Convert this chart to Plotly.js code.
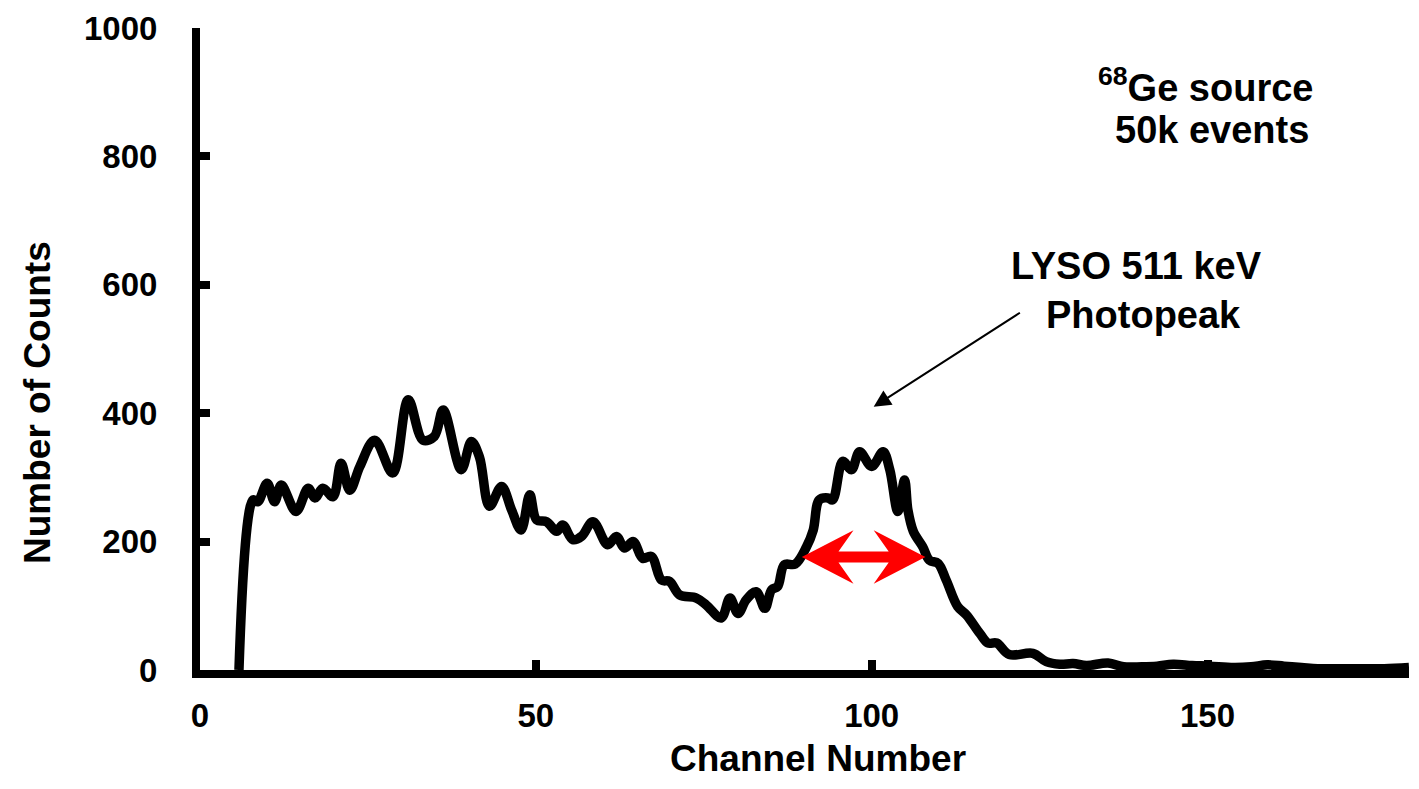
<!DOCTYPE html>
<html>
<head>
<meta charset="utf-8">
<script src="https://cdn.plot.ly/plotly-3.0.1.min.js"></script>
<style>html,body{margin:0;padding:0;background:#fff;}#chart{width:1419px;height:789px;}</style>
</head>
<body>
<div id="chart"></div>
<script>
// ---- Data ----
const channels = [5.8, 7.9, 8.6, 10.0, 11.1, 12.1, 14.3, 16.1, 17.1, 18.3, 19.8, 21.0, 22.3, 23.8, 26.0, 28.7, 31.0, 33.2, 34.9, 36.2, 38.9, 40.4, 41.6, 43.1, 44.9, 46.4, 47.8, 49.1, 50.1, 51.6, 53.1, 54.0, 55.5, 56.8, 58.5, 60.7, 62.0, 63.2, 64.5, 65.9, 67.2, 68.7, 69.9, 71.4, 73.9, 75.4, 77.6, 78.9, 80.1, 81.3, 82.8, 84.1, 85.1, 86.0, 87.0, 88.6, 90.3, 91.3, 92.2, 93.5, 94.2, 95.7, 97.0, 98.2, 100.0, 101.7, 102.7, 103.9, 104.9, 105.4, 106.2, 107.6, 108.6, 109.9, 111.1, 112.8, 114.1, 116.1, 117.3, 118.6, 120.5, 124.0, 126.0, 128, 130, 132, 135.2, 137.5, 140.2, 142.5, 144.9, 147.7, 150.3, 153.9, 156.5, 158.9, 161.4, 164, 166.4, 171.3, 176.3, 180];
const counts = [0, 265, 262, 291, 262, 288, 247, 283, 268, 283, 270, 322, 280, 317, 358, 307, 421, 358, 364, 405, 312, 356, 332, 255, 286, 249, 218, 273, 234, 231, 216, 226, 203, 208, 231, 195, 208, 190, 200, 174, 177, 140, 138, 117, 112, 101, 81, 112, 88, 109, 122, 96, 125, 130, 164, 165, 192, 218, 265, 268, 265, 325, 312, 340, 317, 340, 312, 247, 296, 249, 216, 192, 171, 166, 140, 99, 86, 57, 42, 42, 24, 26, 13, 9, 10, 7, 11, 5, 5, 6, 9, 7, 6, 4, 5, 8, 6, 4, 2, 2, 2, 4];

const xTickVals = [0, 50, 100, 150];
const yTickVals = [0, 200, 400, 600, 800, 1000];

// FWHM marker (channel edges and half-maximum level)
const fwhmEdges = [89.6, 108.0];
const halfMax = 176;

// Photopeak pointer target
const peakPointer = [100.3, 410];

// Text labels
const sourceLines = ['<sup>68</sup>Ge source', '50k events'];
const peakLines = ['LYSO 511 keV', 'Photopeak'];
const xTitle = 'Channel Number';
const yTitle = 'Number of Counts';

// ---- Styling ----
const FONT = 'Liberation Sans, Arial, Helvetica, sans-serif';
const black = '#000000';

const trace = {
  x: channels,
  y: counts,
  type: 'scatter',
  mode: 'lines',
  line: {color: black, width: 9.5, shape: 'spline', smoothing: 1},
  hoverinfo: 'x+y',
  showlegend: false
};

// Red double-headed arrow, built from the FWHM edges (x in data, y in pixels about halfMax)
const chPerPx = 180 / 1209;
const headLen = 51.7 * chPerPx, notch = 36.7 * chPerPx;
const L = fwhmEdges[0], R = fwhmEdges[1];
const hh = 26.7, hs = 5.5;
const arrowPath = [
  'M', L, 0,
  'L', L + headLen, hh,
  'L', L + notch, hs,
  'L', R - notch, hs,
  'L', R - headLen, hh,
  'L', R, 0,
  'L', R - headLen, -hh,
  'L', R - notch, -hs,
  'L', L + notch, -hs,
  'L', L + headLen, -hh,
  'Z'
];
let pathStr = '';
for (let i = 0; i < arrowPath.length; ) {
  if (arrowPath[i] === 'Z') { pathStr += 'Z'; i++; continue; }
  pathStr += arrowPath[i] + arrowPath[i + 1] + ',' + arrowPath[i + 2] + ' ';
  i += 3;
}

const bigFont = {family: FONT, size: 38, color: black, weight: 'bold'};

const annotations = [
  {xref: 'x', yref: 'y', x: 149.7, y: 912, text: sourceLines[0], showarrow: false, xanchor: 'center', yanchor: 'middle', font: bigFont},
  {xref: 'x', yref: 'y', x: 150.6, y: 841, text: sourceLines[1], showarrow: false, xanchor: 'center', yanchor: 'middle', font: bigFont},
  {xref: 'x', yref: 'y', x: 139.5, y: 629, text: peakLines[0], showarrow: false, xanchor: 'center', yanchor: 'middle', font: bigFont},
  {xref: 'x', yref: 'y', x: 140.5, y: 553, text: peakLines[1], showarrow: false, xanchor: 'center', yanchor: 'middle', font: bigFont},
  {xref: 'x', yref: 'y', x: peakPointer[0], y: peakPointer[1], text: '', showarrow: true,
   ax: 147.7, ay: -95, arrowhead: 2, arrowsize: 1.7, arrowwidth: 2, arrowcolor: black},
  {xref: 'paper', yref: 'paper', x: 0.511, y: -0.1386, text: xTitle, showarrow: false, xanchor: 'center', yanchor: 'middle',
   font: {family: FONT, size: 37, color: black, weight: 'bold'}},
  {xref: 'paper', yref: 'paper', x: -0.134, y: 0.4175, text: yTitle, showarrow: false, textangle: -90, xanchor: 'center', yanchor: 'middle',
   font: {family: FONT, size: 37, color: black, weight: 'bold'}}
];

const tickFont = {family: FONT, size: 33, color: black, weight: 'bold'};

const layout = {
  width: 1419,
  height: 789,
  margin: {l: 200, r: 10, t: 28, b: 119, pad: 0},
  paper_bgcolor: '#ffffff',
  plot_bgcolor: '#ffffff',
  showlegend: false,
  xaxis: {
    range: [0, 180], tickmode: 'array', tickvals: xTickVals,
    ticks: 'inside', ticklen: 10, tickwidth: 8, tickcolor: black,
    showline: true, linewidth: 8, linecolor: black,
    showgrid: false, zeroline: false,
    tickfont: tickFont, ticklabelstandoff: 9
  },
  yaxis: {
    range: [0, 1000], tickmode: 'array', tickvals: yTickVals,
    ticks: 'inside', ticklen: 10, tickwidth: 8, tickcolor: black,
    showline: true, linewidth: 8, linecolor: black,
    showgrid: false, zeroline: false,
    tickfont: tickFont, ticklabelstandoff: 28
  },
  shapes: [{
    type: 'path', xref: 'x', yref: 'y', ysizemode: 'pixel', yanchor: halfMax,
    path: pathStr, fillcolor: '#ff0000', line: {width: 0}, layer: 'above'
  }],
  annotations: annotations
};

Plotly.newPlot('chart', [trace], layout, {displayModeBar: false, staticPlot: true});
</script>
</body>
</html>
